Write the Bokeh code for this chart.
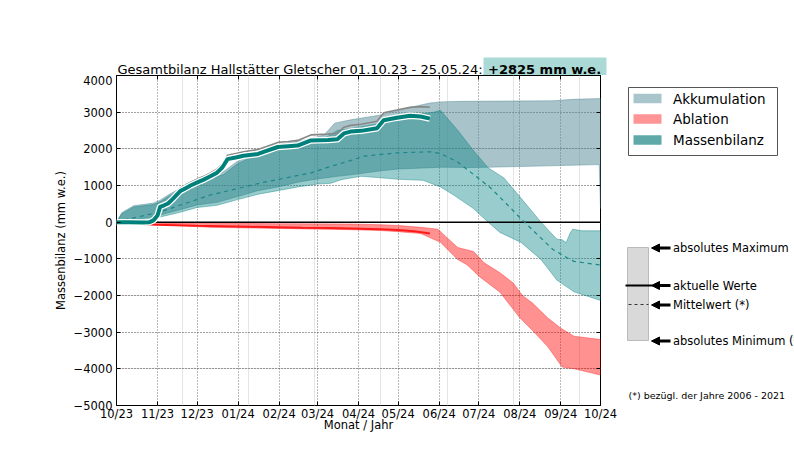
from bokeh.plotting import figure
from bokeh.models import Range1d, FixedTicker, LinearAxis, Arrow, NormalHead, Grid, Plot
from bokeh.layouts import row, column
from bokeh.embed import file_html
from bokeh.resources import INLINE
from bokeh.core.properties import value

# ---------------- data (x = days since 01.10.2023) ----------------
month_days = [0, 31, 61, 92, 123, 152, 183, 213, 244, 274, 305, 336, 366]
month_labels = ["10/23", "11/23", "12/23", "01/24", "02/24", "03/24", "04/24",
                "05/24", "06/24", "07/24", "08/24", "09/24", "10/24"]
y_ticks = [-5000, -4000, -3000, -2000, -1000, 0, 1000, 2000, 3000, 4000]

# Akkumulation band (max / min over 2006-2021)
acc_max_day = [0, 4, 13, 28, 33, 39, 46, 53, 64, 69, 81, 91, 96, 107, 116, 132, 147, 157, 165, 177,
               200, 215, 225, 237, 245, 260, 330, 345, 366]
acc_max = [0, 260, 450, 520, 600, 740, 880, 1050, 1170, 1220, 1380, 1650, 1740, 1930, 2080, 2180, 2280,
           2380, 2700, 2790, 2925, 3065, 3155, 3250, 3280, 3295, 3310, 3350, 3370]
acc_min_day = [0, 13, 28, 46, 61, 76, 91, 107, 122, 137, 152, 167, 177, 200, 213, 237, 245, 270, 320,
               365, 366]
acc_min = [0, 60, 150, 320, 470, 540, 690, 860, 960, 1090, 1180, 1250, 1290, 1400, 1450, 1485, 1500,
           1490, 1530, 1570, 370]

# Massenbilanz band
mb_max_day = [0, 4, 13, 28, 33, 39, 46, 53, 64, 69, 81, 91, 96, 107, 116, 132, 147, 157, 167, 177, 200,
              215, 240, 245, 258, 270, 281, 293, 306, 321, 333, 337, 340, 343, 345, 352, 366]
mb_max = [0, 230, 415, 480, 555, 695, 835, 1000, 1115, 1160, 1300, 1580, 1670, 1860, 2000, 2090, 2180,
          2270, 2500, 2550, 2700, 2880, 3000, 3050, 2505, 1950, 1485, 1205, 650, 0, -465, -480, -560,
          -300, -190, -235, -235]
mb_min_day = [0, 13, 28, 46, 61, 76, 91, 107, 122, 137, 152, 162, 170, 185, 200, 213, 232, 245, 255, 270,
              281, 290, 306, 321, 333, 346, 366]
mb_min = [0, 30, 100, 250, 400, 460, 610, 760, 860, 960, 1040, 1060, 1160, 1250, 1210, 1170, 1140, 960,
          740, 370, 0, -280, -555, -1020, -1580, -1900, -2135]

# Massenbilanz mean
mb_mean_day = [0, 5, 33, 71, 109, 147, 162, 177, 187, 212, 237, 245, 258, 270, 283, 296, 306, 315, 321,
               330, 341, 346, 366]
mb_mean = [0, 50, 280, 740, 1070, 1345, 1520, 1680, 1800, 1890, 1920, 1870, 1640, 1300, 930, 460, 90,
           -225, -435, -745, -975, -1070, -1170]

# Ablation band
abl_max_day = [14, 18, 40, 70, 120, 177, 200, 213, 230, 243, 258, 270, 278, 290, 300, 307, 315, 326,
               336, 346, 366]
abl_max = [0, -15, -25, -35, -40, -50, -70, -90, -140, -190, -690, -800, -1110, -1380, -1660, -2000,
           -2220, -2610, -2890, -3110, -3200]
abl_min_day = [14, 18, 40, 70, 120, 177, 200, 213, 230, 245, 258, 265, 275, 290, 305, 315, 326, 337,
               346, 366]
abl_min = [0, -40, -80, -140, -170, -205, -230, -260, -310, -550, -1020, -1160, -1500, -1910, -2610,
           -2970, -3390, -3950, -4000, -4170]

# current season 2023/24
mb_cur_day = [0, 10, 20, 25, 28, 31, 33, 36, 39, 43, 48, 52, 56, 62, 66, 71, 76, 80, 84, 91, 96, 107,
              114, 122, 130, 137, 147, 160, 167, 172, 177, 185, 197, 202, 212, 222, 230, 237]
mb_cur = [0, 0, -10, 0, 50, 180, 420, 460, 510, 650, 840, 920, 1000, 1100, 1160, 1250, 1350, 1490, 1720,
          1770, 1810, 1860, 1950, 2050, 2070, 2090, 2230, 2240, 2260, 2420, 2470, 2490, 2560, 2780, 2850,
          2900, 2880, 2825]
acc_cur_day = [0, 14, 20, 25, 28, 31, 33, 36, 39, 43, 48, 52, 56, 62, 66, 71, 76, 80, 84, 91, 96, 107,
               114, 122, 130, 137, 147, 160, 167, 172, 177, 185, 197, 202, 212, 222, 230, 237]
acc_cur = [0, 0, 20, 40, 100, 240, 480, 530, 580, 720, 920, 1000, 1090, 1190, 1250, 1345, 1450, 1590,
           1825, 1880, 1920, 1980, 2070, 2175, 2200, 2230, 2380, 2400, 2425, 2590, 2640, 2670, 2750, 2980,
           3060, 3130, 3150, 3135]
abl_cur_day = [14, 30, 60, 100, 140, 162, 177, 200, 213, 225, 232, 237]
abl_cur = [-40, -70, -100, -125, -150, -160, -170, -195, -215, -250, -280, -310]

title_text = "Gesamtbilanz Hallstätter Gletscher 01.10.23 - 25.05.24:"
total_text = "+2825 mm w.e."
legend_names = ["Akkumulation", "Ablation", "Massenbilanz"]
side_names = ["absolutes Maximum", "aktuelle Werte", "Mittelwert (*)", "absolutes Minimum (*)"]
footnote = "(*) bezügl. der Jahre 2006 - 2021"

FONT = "DejaVu Sans"
C_ACC = "#518995"
C_MB = "#008080"
C_ABL = "#ff0000"
LEG_COLORS = ["#a8c5cb", "#ff9494", "#5fa9a9"]

HAS_FRAME_ALIGN = "frame_align" in Plot.properties()


def bare(fig):
    fig.outline_line_color = None
    fig.background_fill_color = "white"
    fig.border_fill_color = "white"
    for g in fig.grid:
        g.visible = False
    if HAS_FRAME_ALIGN:
        fig.frame_align = False
    return fig


TOP_H = 75  # height of the title strip (the top tick panel adds 4px below it)

# ---------------- title strip ----------------
if HAS_FRAME_ALIGN:
    t_range, t_left, t_right = Range1d(0, 625), 0, 0
else:
    t_range, t_left, t_right = Range1d(116, 600), 116, 25
t = bare(figure(width=625, height=TOP_H, x_range=t_range, y_range=Range1d(TOP_H, 0),
                output_backend="svg", toolbar_location=None, title=None,
                min_border_left=t_left, min_border_right=t_right, min_border_top=0,
                min_border_bottom=0, x_axis_location=None, y_axis_location=None))
t.text(x=[117], y=[68.5], text=[title_text], text_font=value(FONT), text_font_size="13px",
       text_baseline="middle", text_align="left", text_color="black")
t.quad(left=[483], right=[606], top=[57], bottom=[TOP_H], fill_color="#aad9d6", line_color=None)
t.text(x=[487.5], y=[68.5], text=[total_text], text_font=value(FONT), text_font_size="13px",
       text_font_style="bold", text_baseline="middle", text_align="left", text_color="black")

# ---------------- main figure ----------------
p = figure(width=625, height=469 - TOP_H, x_range=Range1d(month_days[0], month_days[-1]),
           y_range=Range1d(y_ticks[0], y_ticks[-1]),
           output_backend="svg", toolbar_location=None, title=None,
           min_border_left=116, min_border_right=25, min_border_top=0, min_border_bottom=64,
           x_axis_location=None, y_axis_location=None)
p.outline_line_color = "black"
p.outline_line_width = 1
p.background_fill_color = "white"
p.border_fill_color = "white"

xt = FixedTicker(ticks=month_days, minor_ticks=[])
yt = FixedTicker(ticks=y_ticks, minor_ticks=[])


def style_axis(ax, show_labels):
    ax.axis_line_color = None
    ax.major_tick_in = 4
    ax.major_tick_out = 0
    ax.major_tick_line_color = "black"
    ax.minor_tick_line_color = None
    ax.major_label_text_font = FONT
    ax.major_label_text_color = "black"
    ax.axis_label_text_font = FONT
    ax.axis_label_text_font_style = "normal"
    ax.axis_label_text_font_size = "11.5px"
    ax.axis_label_text_color = "black"
    if show_labels:
        ax.major_label_text_font_size = "11.5px"
    else:
        ax.major_label_text_color = None
        ax.major_label_text_font_size = "0px"
        ax.major_label_standoff = 0


xb = LinearAxis(ticker=xt, axis_label="Monat / Jahr",
                major_label_overrides={d: l for d, l in zip(month_days, month_labels)})
style_axis(xb, True)
xb.major_label_standoff = 1
xb.axis_label_standoff = -6
p.add_layout(xb, "below")

yl = LinearAxis(ticker=yt, axis_label="Massenbilanz (mm w.e.)",
                major_label_overrides={v: ("\u2212" + str(abs(v)) if v < 0 else str(v)) for v in y_ticks})
style_axis(yl, True)
yl.major_label_standoff = 4
yl.axis_label_standoff = 3
p.add_layout(yl, "left")

xa = LinearAxis(ticker=xt)
style_axis(xa, False)
p.add_layout(xa, "above")
yr = LinearAxis(ticker=yt)
style_axis(yr, False)
p.add_layout(yr, "right")

p.add_layout(Grid(dimension=0, ticker=xt, grid_line_color="#777777", grid_line_dash="1 2",
                  grid_line_width=1))
p.add_layout(Grid(dimension=1, ticker=yt, grid_line_color="#444444", grid_line_dash="1 2",
                  grid_line_width=1))


def band(ux, uy, lx, ly):
    return list(ux) + list(reversed(lx)), list(uy) + list(reversed(ly))


bx, by = band(acc_max_day, acc_max, acc_min_day, acc_min)
p.patch(bx, by, fill_color=C_ACC, fill_alpha=0.5, line_color=C_ACC, line_alpha=0.45, line_width=1)
bx, by = band(mb_max_day, mb_max, mb_min_day, mb_min)
p.patch(bx, by, fill_color=C_MB, fill_alpha=0.4, line_color=C_MB, line_alpha=0.4, line_width=1)
bx, by = band(abl_max_day, abl_max, abl_min_day, abl_min)
p.patch(bx, by, fill_color=C_ABL, fill_alpha=0.43, line_color=C_ABL, line_alpha=0.35, line_width=1)

# zero line
p.line([month_days[0], month_days[-1]], [0, 0], line_color="black", line_width=1.5)

p.line(mb_mean_day, mb_mean, line_color="#1a8686", line_width=1.2, line_dash="4 4")
p.line(acc_cur_day, acc_cur, line_color="#888888", line_width=1.6)
p.line(abl_cur_day, abl_cur, line_color="#ff1a1a", line_width=2)
p.line(mb_cur_day, mb_cur, line_color="white", line_width=6.5, line_join="round")
p.line(mb_cur_day, mb_cur, line_color="#00807a", line_width=4, line_join="round")

# ---------------- side panel (legend + explanation) ----------------
q = bare(figure(width=169, height=469, x_range=Range1d(625, 794), y_range=Range1d(469, 0),
                output_backend="svg", toolbar_location=None, title=None,
                min_border_left=0, min_border_right=0, min_border_top=0, min_border_bottom=0,
                x_axis_location=None, y_axis_location=None))

# legend
q.quad(left=[628], right=[777], top=[87], bottom=[155], fill_color="white",
       line_color="#555555", line_width=1)
leg_y = [98, 118.5, 139.5]
for name, col, yy in zip(legend_names, LEG_COLORS, leg_y):
    q.quad(left=[633], right=[661], top=[yy - 4.8], bottom=[yy + 4.8], fill_color=col, line_color=None)
    q.text(x=[672.5], y=[yy], text=[name], text_font=value(FONT), text_font_size="13.5px",
           text_baseline="middle", text_align="left", text_color="black")

# explanation box
q.quad(left=[627], right=[648], top=[247], bottom=[340], fill_color="#d9d9d9", line_color="#bbbbbb",
       line_width=1)
q.segment(x0=[624], y0=[285], x1=[652], y1=[285], line_color="black", line_width=2)
q.segment(x0=[628], y0=[304], x1=[648], y1=[304], line_color="#333333", line_width=1, line_dash="3 3")
side_y = [247.5, 285, 304.5, 340.5]
for name, yy in zip(side_names, side_y):
    q.add_layout(Arrow(end=NormalHead(size=8, fill_color="black", line_color="black", line_width=1),
                       x_start=670, y_start=yy, x_end=651, y_end=yy, line_color="black",
                       line_width=3))
    q.text(x=[672.5], y=[yy], text=[name], text_font=value(FONT), text_font_size="11.5px",
           text_baseline="middle", text_align="left", text_color="black")

q.text(x=[628], y=[394.5], text=[footnote], text_font=value(FONT), text_font_size="9.5px",
       text_baseline="middle", text_align="left", text_color="black")

layout = row(column(t, p), q)
open("out.html", "w").write(file_html(layout, INLINE))
